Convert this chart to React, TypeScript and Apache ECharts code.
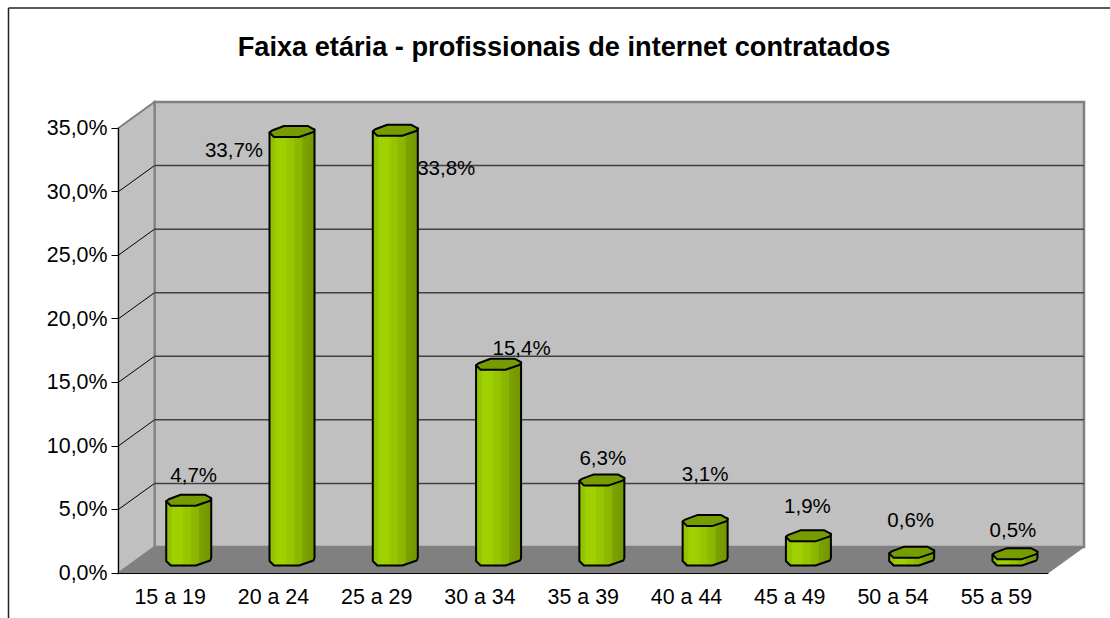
import React, { useEffect, useRef } from "react";
import * as echarts from "echarts";

const categories = ["15 a 19", "20 a 24", "25 a 29", "30 a 34", "35 a 39", "40 a 44", "45 a 49", "50 a 54", "55 a 59"];
const values = [4.7, 33.7, 33.8, 15.4, 6.3, 3.1, 1.9, 0.6, 0.5];
const ticks = [0, 5, 10, 15, 20, 25, 30, 35];
const titleText = "Faixa etária - profissionais de internet contratados";
// label placement relative to the top centre of each cylinder
const labelDx = [5, -58, 51, 23, 1, 0, -1, -1, -2];
const labelDy = [-26, 18, 37, -17, -22, -47, -30, -33, -24];

const DEPTH_X = 36;
const DEPTH_Y = -26;
const BAR_SHIFT = 0.6;
const FONT = "'Liberation Sans', Arial, sans-serif";
const TOP_FACE = [[-22.5, 1], [-20, -1], [-8, -5.5], [16, -5.5], [22.5, -2], [21.5, 0.5], [7, 5.5], [-18, 5.5]];

const pct = (v: number) => v.toFixed(1).replace(".", ",") + "%";

export default function App() {
  const ref = useRef<HTMLDivElement>(null);
  useEffect(() => {
    const chart = echarts.init(ref.current!, null, { renderer: "svg" });
    const sideFill = new echarts.graphic.LinearGradient(0, 0, 1, 0, [
      { offset: 0, color: "#8fbd00" },
      { offset: 0.12, color: "#96c600" },
      { offset: 0.14, color: "#9fd000" },
      { offset: 0.36, color: "#9fd000" },
      { offset: 0.38, color: "#98c800" },
      { offset: 0.54, color: "#96c400" },
      { offset: 0.56, color: "#8dba00" },
      { offset: 0.72, color: "#8ab500" },
      { offset: 0.74, color: "#7da300" },
      { offset: 1, color: "#729500" },
    ]);
    chart.setOption({
      animation: false,
      backgroundColor: "#ffffff",
      title: {
        text: titleText,
        left: 559,
        top: 28,
        textAlign: "center",
        textStyle: { fontFamily: FONT, fontSize: 27.2, fontWeight: "bold", color: "#000" },
      },
      grid: { left: 118.5, right: 62, top: 128, bottom: 45 },
      xAxis: {
        type: "category",
        data: categories,
        z: 4,
        axisLine: { lineStyle: { color: "#000", width: 1 } },
        axisTick: { length: 7, lineStyle: { color: "#000" } },
        axisLabel: { fontFamily: FONT, fontSize: 21.4, color: "#000", margin: 13 },
      },
      yAxis: {
        type: "value",
        min: 0,
        max: 35,
        interval: 5,
        z: 4,
        axisLine: { show: true, lineStyle: { color: "#000", width: 1 } },
        axisTick: { show: true, length: 7, lineStyle: { color: "#000" } },
        splitLine: { show: false },
        axisLabel: { fontFamily: FONT, fontSize: 21.4, color: "#000", margin: 11, formatter: (v: number) => pct(v) },
      },
      graphic: [
        { type: "line", silent: true, shape: { x1: 8.5, y1: 8, x2: 1110, y2: 8 }, style: { stroke: "#222", lineWidth: 1.5 } },
        { type: "line", silent: true, shape: { x1: 8.5, y1: 8, x2: 8.5, y2: 618 }, style: { stroke: "#222", lineWidth: 1.5 } },
      ],
      series: [
        {
          type: "custom",
          coordinateSystem: "cartesian2d",
          z: 1,
          silent: true,
          data: [[0]],
          renderItem: (_p: any, api: any) => {
            const s = api.size([1, 0]);
            const half = s[0] / 2;
            const a = api.coord([0, 0]);
            const b = api.coord([0, 35]);
            const x0 = a[0] - half;
            const x1 = x0 + s[0] * categories.length;
            const y0 = a[1];
            const y1 = b[1];
            const bg = "#c0c0c0";
            const edge = "#808080";
            return {
              type: "group",
              children: [
                { type: "polygon", shape: { points: [[x0 + DEPTH_X, y1 + DEPTH_Y], [x1 + DEPTH_X, y1 + DEPTH_Y], [x1 + DEPTH_X, y0 + DEPTH_Y], [x0 + DEPTH_X, y0 + DEPTH_Y]] }, style: { fill: bg, stroke: edge, lineWidth: 2.5 } },
                { type: "polygon", shape: { points: [[x0, y1], [x0 + DEPTH_X, y1 + DEPTH_Y], [x0 + DEPTH_X, y0 + DEPTH_Y], [x0, y0]] }, style: { fill: bg, stroke: edge, lineWidth: 2 } },
                { type: "polygon", shape: { points: [[x0, y0], [x0 + DEPTH_X, y0 + DEPTH_Y], [x1 + DEPTH_X, y0 + DEPTH_Y], [x1, y0]] }, style: { fill: "#808080", stroke: edge, lineWidth: 1 } },
              ],
            };
          },
        },
        {
          type: "custom",
          coordinateSystem: "cartesian2d",
          z: 2,
          silent: true,
          data: ticks.slice(1, 7).map((t) => [0, t]),
          renderItem: (_p: any, api: any) => {
            const s = api.size([1, 0]);
            const half = s[0] / 2;
            const p = api.coord([0, api.value(1)]);
            const x0 = p[0] - half;
            const x1 = x0 + s[0] * categories.length;
            return {
              type: "group",
              children: [
                { type: "line", shape: { x1: x0, y1: p[1], x2: x0 + DEPTH_X, y2: p[1] + DEPTH_Y }, style: { stroke: "#000", lineWidth: 1 } },
                { type: "line", shape: { x1: x0 + DEPTH_X, y1: p[1] + DEPTH_Y, x2: x1 + DEPTH_X, y2: p[1] + DEPTH_Y }, style: { stroke: "#404040", lineWidth: 1.5 } },
              ],
            };
          },
        },
        {
          type: "custom",
          coordinateSystem: "cartesian2d",
          z: 3,
          silent: true,
          data: values.map((v, i) => [i, v]),
          renderItem: (p: any, api: any) => {
            const i = p.dataIndex;
            const v = api.value(1);
            const base = api.coord([i, 0]);
            const top = api.coord([i, v]);
            const cx = base[0] + DEPTH_X / 2 + BAR_SHIFT;
            const by = base[1] + DEPTH_Y / 2;
            const ty = top[1] + DEPTH_Y / 2;
            const side = [
              [cx + TOP_FACE[0][0], ty + TOP_FACE[0][1]],
              [cx + TOP_FACE[0][0], by + TOP_FACE[0][1]],
              [cx + TOP_FACE[7][0], by + TOP_FACE[7][1]],
              [cx + TOP_FACE[6][0], by + TOP_FACE[6][1]],
              [cx + TOP_FACE[5][0], by + TOP_FACE[5][1]],
              [cx + TOP_FACE[4][0], by + TOP_FACE[4][1]],
              [cx + TOP_FACE[4][0], ty + TOP_FACE[4][1]],
            ];
            const cap = TOP_FACE.map((q) => [cx + q[0], ty + q[1]]);
            return {
              type: "group",
              children: [
                { type: "polygon", shape: { points: side }, style: { fill: sideFill, stroke: "#000", lineWidth: 2, lineJoin: "round" } },
                { type: "polygon", shape: { points: cap }, style: { fill: "#769c00", stroke: "#000", lineWidth: 2, lineJoin: "round" } },
                {
                  type: "text",
                  z2: 10,
                  style: {
                    x: cx + labelDx[i],
                    y: ty + labelDy[i],
                    text: pct(v),
                    fill: "#000",
                    font: `20.5px ${FONT}`,
                    textAlign: "center",
                    textVerticalAlign: "middle",
                  },
                },
              ],
            };
          },
        },
      ],
    });
    return () => chart.dispose();
  }, []);
  return <div ref={ref} style={{ position: "fixed", left: 0, top: 0, width: 1110, height: 618 }} />;
}
